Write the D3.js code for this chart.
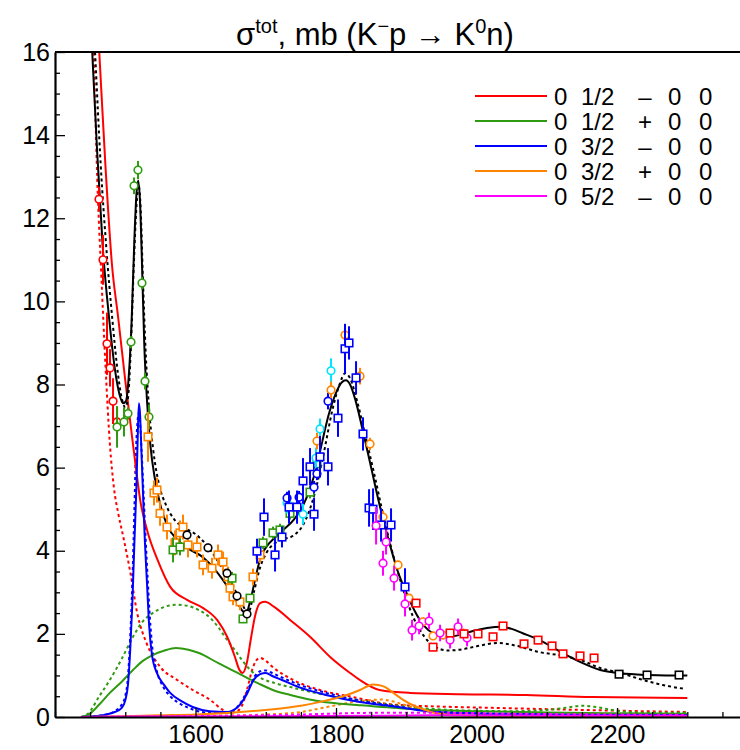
<!DOCTYPE html>
<html>
<head>
<meta charset="utf-8">
<script src="https://cdn.jsdelivr.net/npm/d3@7/dist/d3.min.js"></script>
<style>
  html, body { margin: 0; padding: 0; background: #fff; }
  svg { display: block; font-family: "Liberation Sans", Arial, Helvetica, sans-serif; }
</style>
</head>
<body>
<svg id="chart" width="740" height="750"></svg>
<script>
// ---- axis ticks ----
const xMajorTicks = [1600, 1800, 2000, 2200];
const yMajorTicks = [0, 2, 4, 6, 8, 10, 12, 14, 16];

// ---- partial-wave contributions: [W (MeV), sigma (mb)] ----
const wave_S11_fit1 = [[1455,18.5],[1463,16],[1472,13.2],[1481,10.9],[1490,9.6],[1500,8.1],[1510,6.7],[1517,5.75],[1521,5.25],[1531,4.5],[1546,3.78],[1564,3.13],[1588,2.82],[1611,2.62],[1631,2.33],[1645,1.93],[1656,1.45],[1662,1.15],[1667,1.06],[1673,1.3],[1679,1.9],[1685,2.45],[1692,2.74],[1699,2.77],[1712,2.65],[1735,2.33],[1763,1.93],[1792,1.44],[1820,1.06],[1834,0.89],[1862,0.65],[1905,0.58],[1976,0.55],[2071,0.53],[2165,0.48],[2300,0.46]];
const wave_S11_fit2 = [[1450,18],[1455,16],[1460,13],[1466,10.6],[1472,8.4],[1478,6.6],[1484,5.5],[1490,4.9],[1497,4.35],[1507,3.5],[1517,2.5],[1531,1.75],[1550,1.2],[1574,0.89],[1596,0.65],[1621,0.41],[1639,0.17],[1649,0.1],[1660,0.15],[1668,0.35],[1674,0.7],[1680,1.1],[1686,1.35],[1692,1.42],[1700,1.35],[1710,1.2],[1739,0.89],[1777,0.65],[1824,0.48],[1881,0.3],[1950,0.25],[2023,0.22],[2150,0.17],[2300,0.12]];
const wave_P11_fit1 = [[1437,0],[1447,0.05],[1463,0.3],[1478,0.58],[1495,0.85],[1511,1.13],[1525,1.35],[1539,1.49],[1556,1.6],[1572,1.66],[1590,1.62],[1605,1.54],[1632,1.3],[1660,1.06],[1688,0.82],[1710,0.65],[1735,0.53],[1783,0.36],[1830,0.29],[1900,0.2],[2000,0.14],[2100,0.11],[2200,0.09],[2300,0.08]];
const wave_P11_fit2 = [[1437,0],[1447,0.08],[1463,0.5],[1478,0.89],[1495,1.4],[1511,1.93],[1525,2.3],[1539,2.5],[1556,2.65],[1572,2.7],[1590,2.67],[1605,2.57],[1620,2.4],[1632,2.17],[1643,1.9],[1656,1.61],[1667,1.35],[1678,1.13],[1695,0.92],[1712,0.82],[1740,0.7],[1770,0.58],[1830,0.41],[1900,0.25],[1950,0.18],[2000,0.15],[2050,0.14],[2100,0.17],[2130,0.23],[2150,0.27],[2170,0.24],[2200,0.15],[2250,0.1],[2300,0.1]];
const wave_D13_fit1 = [[1437,0],[1470,0.05],[1485,0.12],[1495,0.22],[1500,0.4],[1504,0.8],[1507,1.6],[1510,2.7],[1513,4.2],[1516,5.6],[1518,6.9],[1519.5,7.55],[1521,7.3],[1523,6.4],[1525,5.5],[1528,4.2],[1531,3.2],[1534,2.2],[1538,1.5],[1545,1.06],[1555,0.78],[1564,0.58],[1580,0.38],[1596,0.24],[1620,0.14],[1645,0.12],[1660,0.24],[1673,0.55],[1683,0.9],[1692,1.03],[1700,1.06],[1710,0.98],[1723,0.89],[1747,0.72],[1786,0.53],[1834,0.36],[1880,0.26],[1930,0.14],[2000,0.08],[2100,0.05],[2300,0.04]];
const wave_D13_fit2 = [[1437,0],[1470,0.05],[1485,0.14],[1495,0.3],[1500,0.5],[1504,1.0],[1507,1.9],[1510,3.2],[1513,5.0],[1515,6.3],[1517,7.0],[1519,7.3],[1521,7.1],[1523,6.5],[1526,5.4],[1529,4.3],[1532,3.3],[1535,2.4],[1539,1.6],[1545,1.1],[1555,0.7],[1564,0.5],[1580,0.3],[1596,0.18],[1620,0.1],[1645,0.1],[1660,0.25],[1673,0.6],[1683,0.95],[1692,1.1],[1700,1.12],[1710,1.05],[1723,0.95],[1747,0.78],[1786,0.58],[1834,0.4],[1880,0.27],[1930,0.16],[2000,0.1],[2100,0.07],[2300,0.05]];
const wave_P13_fit1 = [[1437,0],[1500,0.02],[1550,0.04],[1600,0.06],[1650,0.1],[1700,0.17],[1750,0.27],[1787,0.4],[1810,0.5],[1834,0.65],[1845,0.74],[1853,0.78],[1860,0.77],[1870,0.72],[1880,0.6],[1895,0.42],[1910,0.28],[1925,0.18],[1940,0.1],[1960,0.05],[2000,0.03],[2100,0.02],[2300,0.01]];
const wave_P13_fit2 = [[1437,0],[1600,0.02],[1700,0.06],[1750,0.12],[1787,0.24],[1825,0.36],[1850,0.41],[1865,0.42],[1880,0.38],[1900,0.28],[1925,0.16],[1950,0.08],[2000,0.04],[2300,0.02]];
const wave_D15_fit1 = [[1437,0],[1500,0.01],[1700,0.02],[1850,0.03],[1950,0.04],[2100,0.03],[2300,0.03]];
const wave_D15_fit2 = [[1437,0],[1600,0.02],[1750,0.06],[1850,0.1],[1950,0.1],[2050,0.08],[2200,0.06],[2300,0.05]];

// ---- total cross section fits ----
const total_fit1 = [[1450,17],[1453,16],[1460,13.6],[1468,11.3],[1477,9.6],[1485,8.4],[1492,7.75],[1497,7.55],[1501,7.6],[1505,8.2],[1509,9.5],[1513,11.5],[1516,12.6],[1518.5,12.9],[1521,12.4],[1524,10.8],[1527,9.0],[1531,7.6],[1536,6.5],[1542,5.75],[1550,5.1],[1560,4.6],[1575,4.25],[1590,4.05],[1610,3.85],[1630,3.5],[1645,3.15],[1658,2.8],[1667,2.55],[1672,2.5],[1678,2.8],[1686,3.4],[1693,3.85],[1701,4.1],[1712,4.3],[1725,4.5],[1740,4.75],[1752,5.05],[1763,5.5],[1772,6.0],[1780,6.6],[1790,7.3],[1800,7.8],[1808,8.05],[1814,8.1],[1820,8.0],[1828,7.6],[1838,6.9],[1850,6.0],[1862,5.1],[1875,4.25],[1888,3.5],[1900,3.0],[1912,2.55],[1925,2.2],[1940,2.0],[1958,1.93],[1975,1.97],[1995,2.07],[2015,2.14],[2035,2.17],[2050,2.12],[2065,2.02],[2090,1.85],[2120,1.56],[2148,1.32],[2176,1.13],[2205,1.05],[2243,1.01],[2270,1.0],[2300,1.0]];
const total_fit2 = [[1454,17],[1457,16],[1465,13.3],[1473,11.3],[1482,9.5],[1490,8.2],[1496,7.6],[1500,7.45],[1504,7.7],[1508,8.9],[1512,10.8],[1516,12.3],[1519,12.8],[1522,12.2],[1525,10.6],[1529,8.8],[1534,7.4],[1540,6.4],[1548,5.6],[1558,5.1],[1570,4.75],[1585,4.55],[1600,4.4],[1615,4.15],[1630,3.8],[1648,3.3],[1663,2.85],[1675,2.5],[1683,3.0],[1692,3.6],[1701,3.95],[1720,4.25],[1738,4.35],[1757,4.75],[1770,5.4],[1782,6.3],[1795,7.4],[1805,8.0],[1813,8.27],[1820,8.15],[1830,7.6],[1842,6.75],[1855,5.8],[1868,4.8],[1882,3.85],[1895,3.1],[1910,2.4],[1925,1.95],[1940,1.7],[1960,1.6],[1980,1.63],[2000,1.7],[2030,1.78],[2055,1.72],[2090,1.56],[2120,1.48],[2148,1.37],[2176,1.18],[2205,1.06],[2237,0.89],[2265,0.77],[2295,0.68]];

// ---- measurements: [W (MeV), sigma (mb), error (mb)] ----
const data_redCircles = [[1462.6,12.46,0.3],[1468.3,11.0,0.6],[1474,8.98,0.75],[1478.3,8.4,0.45],[1482.6,7.6,0.55],[1488.3,7.1,0.35]];
const data_greenCircles = [[1488.3,6.98,0.5],[1498.2,7.1,0.35],[1503.9,7.3,0.15],[1508.2,9.02,0.15],[1512.5,12.78,0.2],[1518.1,13.16,0.22],[1523.8,10.44,0.15],[1528.1,8.08,0.2],[1533.8,7.22,0.3]];
const data_orangeSquares = [[1532.4,6.74,0.6],[1540.9,5.39,0.3],[1545.2,5.46,0.3],[1549.5,4.9,0.3],[1559.4,4.57,0.3],[1570.8,4.19,0.3],[1577.9,4.43,0.3],[1582.2,4.57,0.3],[1589.3,4.14,0.3],[1602.1,4.09,0.25],[1610.7,3.66,0.25],[1623.5,3.58,0.25],[1632,3.9,0.25],[1639.2,3.73,0.25],[1646.3,3.37,0.25],[1649.1,3.1,0.2],[1653.4,2.89,0.2],[1663.3,2.77,0.2],[1681.8,3.37,0.2],[1691.8,3.9,0.2]];
const data_greenSquares = [[1568,4.02,0.3],[1577.9,4.09,0.2],[1652,3.34,0.15],[1667.6,2.36,0.1],[1677.6,2.86,0.1],[1696.1,4.19,0.15],[1710.3,4.43,0.15],[1720.3,4.5,0.15],[1734.5,4.9,0.15],[1763,5.41,0.15],[1772.9,6.09,0.15]];
const data_blackCircles = [[1587.9,4.38,0.1],[1617.8,4.07,0.1],[1644.8,3.46,0.1],[1659.1,2.91,0.1],[1673.3,2.48,0.1]];
const data_blueSquares = [[1687.5,3.99,0.3],[1697.5,4.81,0.45],[1713.2,3.9,0.4],[1723.1,4.33,0.25],[1733.1,5.05,0.4],[1744.5,5.05,0.4],[1753,5.68,0.55],[1763,6.02,0.45],[1768.7,4.88,0.4],[1777.2,6.26,0.5],[1788.6,6.02,0.45],[1802.8,7.19,0.45],[1812.8,8.86,0.6],[1818.5,9.0,0.4],[1828.5,8.16,0.4],[1838.4,6.81,0.4],[1847,5.03,0.45],[1852.7,5.0,0.5],[1864.1,4.62,0.4],[1878.3,4.62,0.4],[1898.2,3.13,0.45]];
const data_cyanCircles = [[1730.3,5.15,0.25],[1753,4.88,0.25],[1771.5,6.23,0.25],[1777.2,6.93,0.25],[1792.9,8.33,0.3]];
const data_blueCircles = [[1730.3,5.27,0.15],[1747.4,5.29,0.15],[1768.7,5.53,0.15],[1772.9,5.85,0.15],[1788.6,7.6,0.2]];
const data_orangeCircles = [[1772.9,6.64,0.2],[1792.9,7.87,0.2],[1812.8,9.19,0.2],[1834.2,8.2,0.2],[1848.4,6.57,0.15],[1866.9,4.81,0.15],[1888.3,3.66,0.1],[1903.9,2.86,0.1],[1923.8,2.29,0.1],[1938.1,1.95,0.1],[1952.3,1.97,0.1],[1980.8,2.02,0.1]];
const data_magentaCircles = [[1857,4.6,0.45],[1866.9,3.7,0.3],[1871.2,4.21,0.3],[1882.6,3.34,0.3],[1898.2,2.72,0.3],[1908.2,2.09,0.25],[1918.2,2.19,0.2],[1932.4,2.31,0.2],[1948.1,2.02,0.2],[1962.3,1.85,0.2],[1973.7,2.17,0.2],[1986.5,1.9,0.2]];
const data_redSquares = [[1913.9,2.74,0.05],[1938.1,1.68,0.05],[1962.3,2.02,0.05],[1982.2,2.0,0.05],[2002.1,2.0,0.05],[2023.5,1.93,0.05],[2037.7,2.19,0.05],[2067.6,1.76,0.05],[2087.6,1.85,0.05],[2107.5,1.71,0.05],[2123.1,1.52,0.05],[2147.3,1.47,0.05],[2167.3,1.42,0.05]];
const data_blackSquares = [[2202.9,1.03,0.03],[2242.7,1.01,0.03],[2288.3,1.01,0.03]];

// ---- legend rows ----
const legendWave = [
  { cols: ["0", "1/2", "\u2013", "0", "0"], color: "#ff0000" },
  { cols: ["0", "1/2", "+", "0", "0"], color: "#2f9a10" },
  { cols: ["0", "3/2", "\u2013", "0", "0"], color: "#0000ff" },
  { cols: ["0", "3/2", "+", "0", "0"], color: "#ff8400" },
  { cols: ["0", "5/2", "\u2013", "0", "0"], color: "#ff00ff" }
];

const COL = { red: "#ff0000", green: "#2f9a10", blue: "#0000ff", orange: "#ff8400", magenta: "#ff00ff", cyan: "#00e5ff", black: "#000000" };

const svg = d3.select("#chart");
const margin = { left: 55, right: 0, top: 52, bottom: 33 };
const W = 740, H = 750;

const x = d3.scaleLinear().domain([1400, 2375]).range([margin.left, W - margin.right]);
const y = d3.scaleLinear().domain([0, 16]).range([H - margin.bottom, margin.top]);

svg.append("defs").append("clipPath").attr("id", "plotClip")
  .append("rect").attr("x", margin.left).attr("y", margin.top)
  .attr("width", W - margin.left - margin.right).attr("height", H - margin.top - margin.bottom);

const plot = svg.append("g").attr("clip-path", "url(#plotClip)");

const line = d3.line().x(d => x(d[0])).y(d => y(d[1])).curve(d3.curveMonotoneX);

function drawCurve(data, color, dashed, width) {
  plot.append("path").datum(data)
    .attr("d", line)
    .attr("fill", "none")
    .attr("stroke", color)
    .attr("stroke-width", width || 2)
    .attr("stroke-dasharray", dashed ? "3,3" : null);
}

// partial-wave contributions
drawCurve(wave_S11_fit2, COL.red, true);
drawCurve(wave_P11_fit2, COL.green, true);
drawCurve(wave_D13_fit2, COL.blue, true);
drawCurve(wave_P13_fit2, COL.orange, true);
drawCurve(wave_S11_fit1, COL.red, false);
drawCurve(wave_P11_fit1, COL.green, false);
drawCurve(wave_D13_fit1, COL.blue, false);
drawCurve(wave_P13_fit1, COL.orange, false);
drawCurve(wave_D15_fit2, COL.magenta, true);
drawCurve(wave_D15_fit1, COL.magenta, false);

// total cross section
drawCurve(total_fit2, COL.black, true, 2);
drawCurve(total_fit1, COL.black, false, 2);

// measurements with error bars
function drawData(data, color, shape) {
  const g = plot.append("g");
  g.selectAll("line.err").data(data).join("line")
    .attr("x1", d => x(d[0])).attr("x2", d => x(d[0]))
    .attr("y1", d => y(d[1] - d[2])).attr("y2", d => y(d[1] + d[2]))
    .attr("stroke", color).attr("stroke-width", 2);
  if (shape === "circle") {
    g.selectAll("circle").data(data).join("circle")
      .attr("cx", d => x(d[0])).attr("cy", d => y(d[1])).attr("r", 3.8)
      .attr("fill", "#fff").attr("stroke", color).attr("stroke-width", 1.6);
  } else {
    const s = 7.5;
    g.selectAll("rect").data(data).join("rect")
      .attr("x", d => x(d[0]) - s / 2).attr("y", d => y(d[1]) - s / 2)
      .attr("width", s).attr("height", s)
      .attr("fill", "#fff").attr("stroke", color).attr("stroke-width", 1.6);
  }
}

drawData(data_redCircles, COL.red, "circle");
drawData(data_greenCircles, COL.green, "circle");
drawData(data_orangeSquares, COL.orange, "square");
drawData(data_greenSquares, COL.green, "square");
drawData(data_blackCircles, COL.black, "circle");
drawData(data_cyanCircles, COL.cyan, "circle");
drawData(data_blueCircles, COL.blue, "circle");
drawData(data_orangeCircles, COL.orange, "circle");
drawData(data_blueSquares, COL.blue, "square");
drawData(data_magentaCircles, COL.magenta, "circle");
drawData(data_redSquares, COL.red, "square");
drawData(data_blackSquares, COL.black, "square");

// ---- axes ----
const axisColor = "#000";
const xMinor = d3.range(1400, 2376, 50).filter(v => !xMajorTicks.includes(v));
const yMinor = d3.range(0, 16.01, 0.5).filter(v => v % 2 !== 0);

svg.append("g").attr("transform", `translate(0,${H - margin.bottom})`)
  .call(d3.axisBottom(x).tickValues(xMajorTicks).tickFormat(d3.format("d"))
    .tickSizeInner(-9).tickSizeOuter(0).tickPadding(8));
svg.append("g").attr("transform", `translate(0,${H - margin.bottom})`)
  .call(d3.axisBottom(x).tickValues(xMinor).tickFormat("").tickSizeInner(-5).tickSizeOuter(0))
  .call(g => g.select(".domain").remove());

svg.append("g").attr("transform", `translate(${margin.left},0)`)
  .call(d3.axisLeft(y).tickValues(yMajorTicks).tickFormat(d3.format("d"))
    .tickSizeInner(-10).tickSizeOuter(0).tickPadding(5));
svg.append("g").attr("transform", `translate(${margin.left},0)`)
  .call(d3.axisLeft(y).tickValues(yMinor).tickFormat("").tickSizeInner(-5).tickSizeOuter(0))
  .call(g => g.select(".domain").remove());

svg.selectAll(".domain").attr("stroke", axisColor).attr("stroke-width", 2.2);
svg.selectAll(".tick line").attr("stroke", axisColor).attr("stroke-width", 1.3);
svg.selectAll(".tick text").attr("font-size", 25).attr("fill", "#000")
  .attr("font-family", "'Liberation Sans', Arial, sans-serif");

// top frame line
svg.append("line").attr("x1", margin.left).attr("x2", W).attr("y1", margin.top).attr("y2", margin.top)
  .attr("stroke", axisColor).attr("stroke-width", 2.2);

// ---- title ----
const title = svg.append("text").attr("x", 375).attr("y", 45)
  .attr("text-anchor", "middle").attr("font-size", 31).attr("fill", "#000");
title.append("tspan").text("\u03c3");
title.append("tspan").attr("font-size", 20).attr("dy", -12).text("tot");
title.append("tspan").attr("dy", 12).text(", mb (K");
title.append("tspan").attr("font-size", 20).attr("dy", -12).text("\u2212");
title.append("tspan").attr("dy", 12).text("p \u2192 K");
title.append("tspan").attr("font-size", 20).attr("dy", -12).text("0");
title.append("tspan").attr("dy", 12).text("n)");

// ---- legend ----
const legend = svg.append("g");
const colX = [554, 581, 645, 668, 699];
const colAnchor = ["start", "start", "middle", "start", "start"];
legendWave.forEach((row, i) => {
  const yy = 96 + i * 25;
  legend.append("line").attr("x1", 475).attr("x2", 547).attr("y1", yy).attr("y2", yy)
    .attr("stroke", row.color).attr("stroke-width", 2);
  row.cols.forEach((t, j) => {
    legend.append("text").attr("x", colX[j]).attr("y", yy + 9)
      .attr("text-anchor", colAnchor[j]).attr("font-size", 24).attr("fill", "#000").text(t);
  });
});
</script>
</body>
</html>
